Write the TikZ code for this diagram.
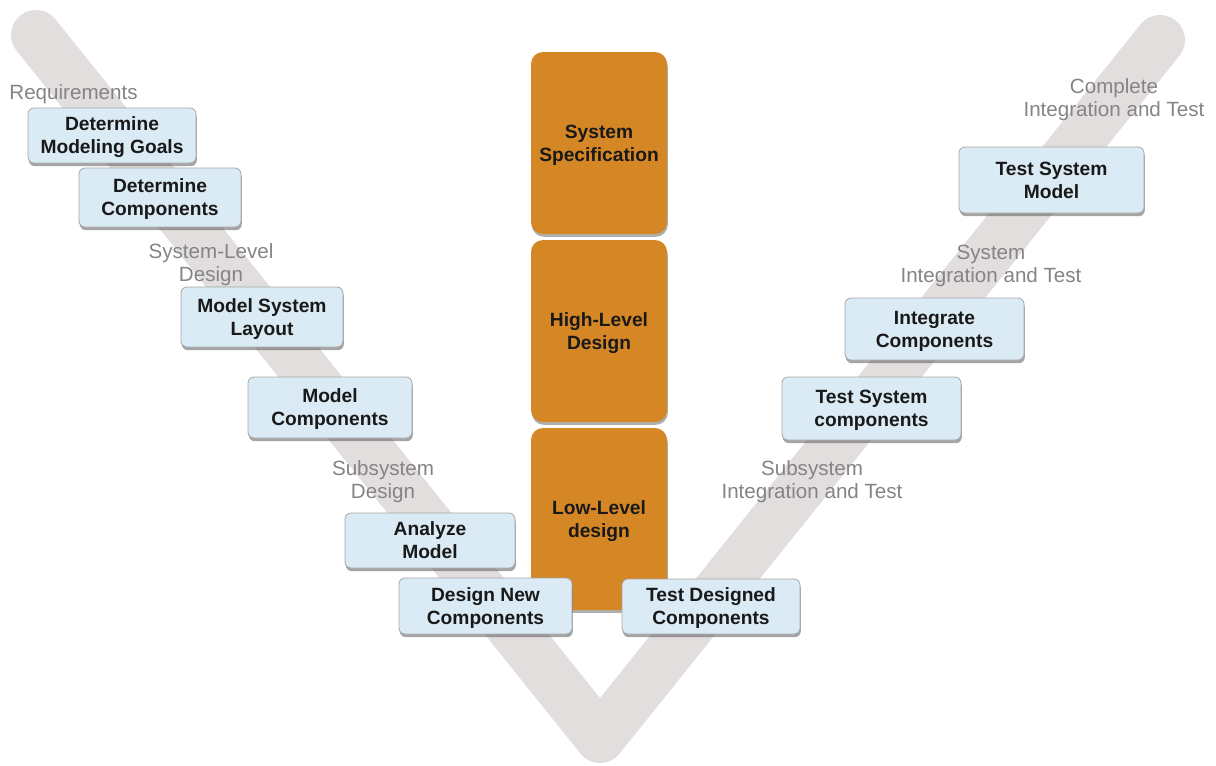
\documentclass[tikz,border=0pt]{standalone}
\usepackage{fontspec}
\setmainfont{Liberation Sans}
\usetikzlibrary{shadows}
\definecolor{vgray}{RGB}{226,222,221}
\definecolor{taskblue}{RGB}{218,235,245}
\definecolor{phaseorange}{RGB}{214,135,37}
\definecolor{labelgray}{RGB}{132,132,132}
\tikzset{
	taskbox/.style={draw=black!35, fill=taskblue, rounded corners=3pt, align=center, inner sep=0pt,
		font=\fontsize{9.6}{11.5}\selectfont\bfseries, text=black!90, text depth=0pt,
		drop shadow={shadow xshift=0.4pt, shadow yshift=-1.6pt, opacity=0.5, fill=black!70}},
	phasebox/.style={fill=phaseorange, rounded corners=6pt, align=center, inner sep=0pt,
		minimum width=68pt, minimum height=91pt, text depth=0pt,
		font=\fontsize{9.6}{11.5}\selectfont\bfseries, text=black!90,
		drop shadow={shadow xshift=0.4pt, shadow yshift=-1.4pt, opacity=0.45, fill=black!70}},
	vlabel/.style={text=labelgray, align=center, inner sep=0pt, text depth=0pt, font=\fontsize{10.3}{11.5}\selectfont}
}

\begin{document}
\begin{tikzpicture}[x=0.5pt, y=-0.5pt]
			\useasboundingbox (0,0) rectangle (1216,766);
			% the V
			\coordinate (vtopl) at (36,35);
			\coordinate (vbot) at (600,738);
			\coordinate (vtopr) at (1160,40);
			\draw[vgray, line width=25pt, line cap=round, line join=round] (vtopl) -- (vbot) -- (vtopr);
			% phases
			\foreach \y/\t/\n in {143/{System\\Specification}/spec, 331/{High-Level\\Design}/high, 519/{Low-Level\\design}/low}{
				\node[phasebox] (\n) at (599,\y) {\t};
			}
			% left branch
			\node[taskbox, minimum width=84pt, minimum height=27.5pt] (goals) at (112,135.5) {Determine\\Modeling Goals};
			\node[taskbox, minimum width=81pt, minimum height=29.5pt] (detcomp) at (160,197.5) {Determine\\Components};
			\node[taskbox, minimum width=81pt, minimum height=30pt] (layout) at (262,317) {Model System\\Layout};
			\node[taskbox, minimum width=82pt, minimum height=30.5pt] (modcomp) at (330,407.5) {Model\\Components};
			\node[taskbox, minimum width=85pt, minimum height=27.5pt] (analyze) at (430,540.5) {Analyze\\Model};
			\node[taskbox, minimum width=86.5pt, minimum height=28pt] (newcomp) at (485.5,606) {Design New\\Components};
			% right branch
			\node[taskbox, minimum width=89pt, minimum height=27.5pt] (testcomp) at (711,606.5) {Test Designed\\Components};
			\node[taskbox, minimum width=89.5pt, minimum height=31.5pt] (testsys) at (871.5,408.5) {Test System\\components};
			\node[taskbox, minimum width=89.5pt, minimum height=31pt] (integ) at (934.5,329) {Integrate\\Components};
			\node[taskbox, minimum width=92.5pt, minimum height=33pt] (testmodel) at (1051.5,180) {Test System\\Model};
			% stage labels
			\node[vlabel, anchor=west] (req) at (9,92) {Requirements};
			\node[vlabel] (sysdes) at (211,263) {System-Level\\Design};
			\node[vlabel] (subdes) at (383,479.5) {Subsystem\\Design};
			\node[vlabel] (subint) at (812,480) {Subsystem\\Integration and Test};
			\node[vlabel] (sysint) at (991,263.5) {System\\Integration and Test};
			\node[vlabel] (compint) at (1114,97.5) {Complete\\Integration and Test};
		\end{tikzpicture}
\end{document}
